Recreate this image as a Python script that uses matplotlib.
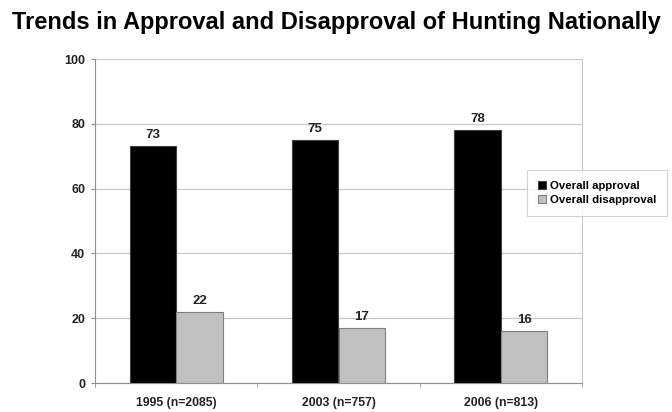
import numpy as np
import matplotlib
matplotlib.use("Agg")
import matplotlib.pyplot as plt

plt.rcParams['font.family'] = ['Liberation Sans', 'DejaVu Sans']

categories = ['1995 (n=2085)', '2003 (n=757)', '2006 (n=813)']
approval = [73, 75, 78]
disapproval = [22, 17, 16]
yticks = [0, 20, 40, 60, 80, 100]

fig = plt.figure(figsize=(6.72, 4.12), dpi=100)
ax = fig.add_axes([95 / 672, 1 - 383 / 412, 487 / 672, 324 / 412])

x = np.arange(len(categories))
w = 0.287
b1 = ax.bar(x - w / 2, approval, w, color='black', edgecolor='#404040',
            linewidth=0.8, label='Overall approval', zorder=3)
b2 = ax.bar(x + w / 2, disapproval, w, color='#c0c0c0', edgecolor='#808080',
            linewidth=0.8, label='Overall disapproval', zorder=3)

for bars, vals in [(b1, approval), (b2, disapproval)]:
    for rect, v in zip(bars, vals):
        ax.text(rect.get_x() + rect.get_width() / 2, v + 1.6, f'{v}',
                ha='center', va='bottom', fontsize=9.5, fontweight='bold',
                color='#222222')

ax.set_xlim(-0.5, len(categories) - 0.5)
ax.set_ylim(0, 100)
ax.set_yticks(yticks)
ax.set_yticklabels([str(t) for t in yticks], fontsize=9, fontweight='bold',
                   color='#222222')
ax.yaxis.grid(True, color='#c8c8c8', linewidth=0.9, zorder=0)
ax.set_axisbelow(True)

# category labels at group centres, tick marks at group boundaries
ax.set_xticks(x)
ax.set_xticklabels(categories, fontsize=8.8, fontweight='bold', color='#222222')
ax.tick_params(axis='x', length=0, pad=10)
ax.set_xticks(np.arange(len(categories) + 1) - 0.5, minor=True)
ax.tick_params(axis='x', which='minor', length=3, color='#909090', direction='out')
ax.tick_params(axis='y', length=3, color='#909090', pad=4)

ax.spines['top'].set_visible(False)
ax.spines['right'].set_color('#c8c8c8')
ax.spines['left'].set_color('#909090')
ax.spines['bottom'].set_color('#909090')

fig.text(12 / 672, 1 - 29.5 / 412, 'Trends in Approval and Disapproval of Hunting Nationally',
         fontsize=17, fontweight='bold', ha='left', va='baseline')

leg = fig.legend(loc='upper left', bbox_to_anchor=(527 / 672, 1 - 170 / 412),
                 prop={'weight': 'bold', 'size': 8.2}, frameon=True,
                 fancybox=False, handlelength=0.7, handleheight=0.7,
                 handletextpad=0.35, borderpad=0.95, labelspacing=0.4,
                 borderaxespad=0)
leg.get_frame().set_edgecolor('#c8c8c8')
leg.get_frame().set_linewidth(0.8)

fig.savefig('out.png', dpi=100, facecolor='white')
